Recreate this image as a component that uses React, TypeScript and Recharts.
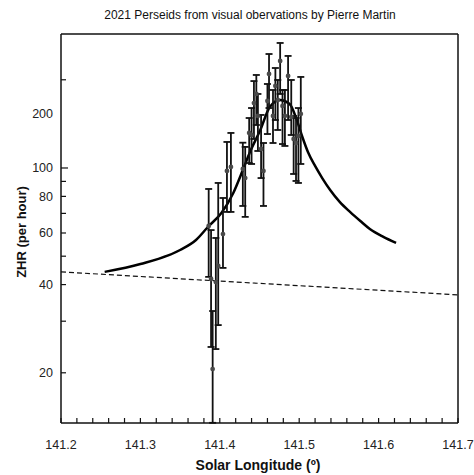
import { ComposedChart, XAxis, YAxis, Scatter, Line, ErrorBar } from "recharts";

// observed ZHR points (solar longitude, ZHR, upper and lower end of error bar)
const SL = [
  141.386, 141.389, 141.391, 141.395, 141.398, 141.404, 141.409, 141.414, 141.429, 141.432,
  141.437, 141.44, 141.443, 141.446, 141.448, 141.452, 141.455, 141.46, 141.462, 141.467,
  141.47, 141.473, 141.476, 141.479, 141.482, 141.486, 141.49, 141.493, 141.496, 141.499, 141.502,
];
const ZHR = [
  63.4, 41.8, 20.6, 40.8, 46.3, 59.5, 97.7, 100.8, 99.2, 92.4,
  131.7, 129.6, 166.6, 178.9, 150.5, 116.1, 97.7, 169.3, 209.4, 150.5,
  190.5, 170.6, 231.8, 162.8, 150.5, 206.1, 149.3, 125.6, 121.7, 128.6, 152.9,
];
const ZHR_HI = [
  84.8, 61.4, 32.5, 57.7, 88.9, 79, 122.7, 131.7, 122, 118,
  148.1, 160.2, 198, 207.7, 178.9, 151.7, 121.7, 193.5, 244.9, 184.6,
  219.4, 199.7, 267.1, 184.6, 184.6, 241.2, 199.7, 150.5, 148.1, 160.2, 204.5,
];
// the third bar runs down to the bottom of the plot
const ZHR_LO = [
  42.5, 24.5, 13.5, 24.1, 29.1, 45.6, 70.8, 70.8, 74.2, 68.1,
  104, 103.2, 125.6, 140.2, 114.3, 92.4, 74.2, 130.6, 160.2, 121.7,
  145.8, 134.8, 178.9, 120.7, 118.9, 145.8, 129.6, 95.4, 90.3, 88.9, 103.2,
];

// fitted activity profile
const FIT_SL = [
  141.255, 141.3, 141.35, 141.37, 141.385, 141.402, 141.417, 141.429, 141.438, 141.451,
  141.463, 141.476, 141.488, 141.497, 141.504, 141.511, 141.52, 141.529, 141.539, 141.551,
  141.564, 141.577, 141.589, 141.606, 141.622,
];
const FIT_ZHR = [
  44.2, 47.0, 52.5, 56.8, 62.9, 70.2, 82.2, 98.4, 113.4, 134.8,
  161.5, 170.6, 165.4, 145.8, 127.6, 113.4, 101.6, 92.4, 84.1, 76.6,
  70.8, 65.9, 61.9, 58.2, 55.5,
];

// background level
const BG_SL = [141.2, 141.7];
const BG_ZHR = [44.2, 36.9];

const X_LABELS = [141.2, 141.3, 141.4, 141.5, 141.6, 141.7];
const X_MINOR = Array.from({ length: 26 }, (_, i) => +(141.2 + i * 0.02).toFixed(2));
const Y_MARKS = [20, 30, 40, 50, 60, 70, 80, 90, 100, 200];
const Y_LABEL_AT = [20, 40, 60, 80, 100, 154];
const Y_LABEL_TEXT = ["20", "40", "60", "80", "100", "200"];

const FONT = "'Liberation Sans', Arial, sans-serif";
const INK = "#111";

const points = SL.map((sl, i) => ({
  sl,
  zhr: ZHR[i],
  err: [ZHR[i] - ZHR_LO[i], ZHR_HI[i] - ZHR[i]],
}));
const fit = FIT_SL.map((sl, i) => ({ sl, zhr: FIT_ZHR[i] }));
const bg = BG_SL.map((sl, i) => ({ sl, zhr: BG_ZHR[i] }));

const isLabel = (v: number) => X_LABELS.some((l) => Math.abs(l - v) < 1e-6);

const BottomTick = ({ x, y, payload }: any) => (
  <g>
    <line x1={x} x2={x} y1={y - 8} y2={y - 13} stroke={INK} strokeWidth={1.2} />
    {isLabel(payload.value) && (
      <text x={x} y={y + 18} textAnchor="middle" fontSize={12.5} fill="#222" fontFamily={FONT}>
        {payload.value.toFixed(1)}
      </text>
    )}
  </g>
);

const TopTick = ({ x, y }: any) => (
  <line x1={x} x2={x} y1={y + 8} y2={y + 13} stroke={INK} strokeWidth={1.2} />
);

const LeftTick = ({ x, y, payload }: any) => {
  const v = payload.value;
  const li = Y_LABEL_AT.indexOf(v);
  return (
    <g>
      {Y_MARKS.includes(v) && (
        <line x1={x + 8} x2={x + (v === 100 ? 15 : 13)} y1={y} y2={y} stroke={INK} strokeWidth={1.2} />
      )}
      {li >= 0 && (
        <text x={x} y={y} dy={4.5} textAnchor="end" fontSize={12.5} fill="#222" fontFamily={FONT}>
          {Y_LABEL_TEXT[li]}
        </text>
      )}
    </g>
  );
};

const Dot = ({ cx, cy }: any) => <circle cx={cx} cy={cy} r={2.4} fill="#4a4a4a" />;

export default function App() {
  return (
    <div
      style={{
        position: "absolute",
        left: 0,
        top: 0,
        width: 474,
        height: 475,
        background: "#fff",
        fontFamily: FONT,
        color: "#111",
      }}
    >
      <div style={{ position: "absolute", left: 0, width: 500, top: 8, textAlign: "center", fontSize: 12, lineHeight: "14px" }}>
        2021 Perseids from visual obervations by Pierre Martin
      </div>
      <div
        style={{
          position: "absolute",
          left: 21,
          top: 232,
          transform: "translate(-50%, -50%) rotate(-90deg)",
          whiteSpace: "nowrap",
          fontWeight: "bold",
          fontSize: 13,
        }}
      >
        ZHR (per hour)
      </div>
      <div style={{ position: "absolute", left: 0, width: 516, top: 457, textAlign: "center", fontSize: 14, fontWeight: "bold", lineHeight: "16px" }}>
        Solar Longitude (º)
      </div>
      <ComposedChart width={474} height={475} margin={{ top: 29, right: 0, bottom: 0, left: 0 }}>
        <XAxis
          xAxisId="x"
          dataKey="sl"
          type="number"
          domain={[141.2, 141.7]}
          ticks={X_MINOR}
          interval={0}
          height={52}
          tickSize={6}
          tickMargin={2}
          tickLine={false}
          tick={<BottomTick />}
          axisLine={{ stroke: INK, strokeWidth: 1.5 }}
          allowDataOverflow
        />
        <XAxis
          xAxisId="top"
          orientation="top"
          type="number"
          domain={[141.2, 141.7]}
          ticks={X_MINOR}
          interval={0}
          height={5}
          tickSize={6}
          tickMargin={2}
          tickLine={false}
          tick={<TopTick />}
          axisLine={{ stroke: INK, strokeWidth: 1.5 }}
          allowDataOverflow
        />
        <YAxis
          yAxisId="y"
          type="number"
          scale="log"
          domain={[13.48, 286.6]}
          allowDataOverflow
          ticks={[...Y_MARKS, 154]}
          interval={0}
          width={61}
          tickSize={6}
          tickMargin={2}
          tickLine={false}
          tick={<LeftTick />}
          axisLine={{ stroke: INK, strokeWidth: 1.5 }}
        />
        <YAxis
          yAxisId="r"
          orientation="right"
          type="number"
          domain={[0, 1]}
          width={16}
          tick={false}
          tickLine={false}
          axisLine={{ stroke: INK, strokeWidth: 1.5 }}
        />
        <Line
          xAxisId="x"
          yAxisId="y"
          data={bg}
          dataKey="zhr"
          type="linear"
          stroke={INK}
          strokeWidth={1.2}
          strokeDasharray="5 3"
          dot={false}
          isAnimationActive={false}
        />
        <Line
          xAxisId="x"
          yAxisId="y"
          data={fit}
          dataKey="zhr"
          type="monotone"
          stroke="#000"
          strokeWidth={2.5}
          dot={false}
          isAnimationActive={false}
        />
        <Scatter xAxisId="x" yAxisId="y" data={points} dataKey="zhr" shape={<Dot />} isAnimationActive={false}>
          <ErrorBar dataKey="err" direction="y" width={3.5} stroke={INK} strokeWidth={1.8} isAnimationActive={false} />
        </Scatter>
      </ComposedChart>
    </div>
  );
}
